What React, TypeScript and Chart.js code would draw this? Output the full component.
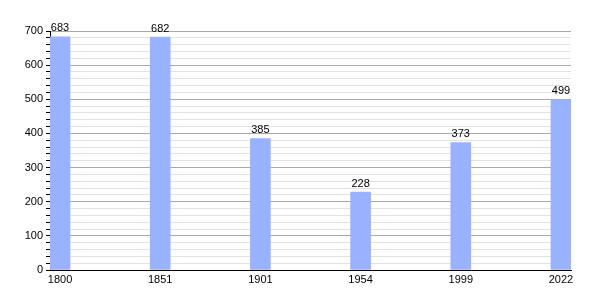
import React, { useEffect, useRef } from "react";
import { Chart, registerables } from "chart.js";

Chart.register(...registerables);

const categories = ["1800", "1851", "1901", "1954", "1999", "2022"];
const values = [683, 682, 385, 228, 373, 499];
const yTickLabels = [0, 100, 200, 300, 400, 500, 600, 700];

const FONT = "'Liberation Sans', Arial, sans-serif";

const valueLabels = {
  id: "valueLabels",
  afterDatasetsDraw(chart: any) {
    const ctx = chart.ctx;
    const meta = chart.getDatasetMeta(0);
    ctx.save();
    ctx.font = `11px ${FONT}`;
    ctx.fillStyle = "#000";
    ctx.textAlign = "center";
    ctx.textBaseline = "bottom";
    meta.data.forEach((bar: any, i: number) => {
      ctx.fillText(String(values[i]), bar.x, bar.y - 3);
    });
    ctx.restore();
  },
};

export default function App() {
  const ref = useRef<HTMLCanvasElement | null>(null);
  useEffect(() => {
    document.body.style.margin = "0";
    const chart = new Chart(ref.current as HTMLCanvasElement, {
      type: "bar",
      data: {
        datasets: [
          {
            data: values.map((v, i) => ({ x: i, y: v })),
            backgroundColor: "rgb(153,178,255)",
            barThickness: 20,
          },
        ],
      },
      options: {
        animation: false,
        responsive: false,
        maintainAspectRatio: false,
        layout: { padding: { top: 31, right: 29, bottom: 0, left: 0 } },
        plugins: { legend: { display: false }, tooltip: { enabled: false } },
        scales: {
          x: {
            type: "linear",
            offset: false,
            min: -0.1,
            max: 5.1,
            afterBuildTicks: (s: any) => {
              s.ticks = categories.map((_, i) => ({ value: i }));
            },
            afterFit: (s: any) => {
              s.height = 30;
            },
            ticks: {
              autoSkip: false,
              maxRotation: 0,
              padding: 3,
              color: "#000",
              font: { family: FONT, size: 11 },
              callback: (v: any) => categories[Math.round(Number(v))] ?? "",
            },
            grid: { display: false, drawTicks: false },
            border: { display: true, color: "#000", width: 1 },
          },
          y: {
            min: 0,
            max: 700,
            afterBuildTicks: (s: any) => {
              const t: any[] = [];
              for (let v = 0; v <= 700; v += 20) t.push({ value: v });
              s.ticks = t;
            },
            afterFit: (s: any) => {
              s.width = 50;
            },
            ticks: {
              autoSkip: false,
              padding: 3,
              color: "#000",
              font: { family: FONT, size: 11 },
              callback: (v: any) =>
                yTickLabels.includes(Number(v)) ? String(v) : "",
            },
            grid: {
              color: (c: any) =>
                c.tick && c.tick.value % 100 === 0 ? "#a8a8a8" : "#e2e2e2",
              tickColor: "#000",
              tickLength: 4,
            },
            border: { display: true, color: "#000", width: 1 },
          },
        },
      },
      plugins: [valueLabels],
    });
    return () => chart.destroy();
  }, []);
  return (
    <div style={{ width: 600, height: 300 }}>
      <canvas ref={ref} width={600} height={300} style={{ display: "block" }} />
    </div>
  );
}
